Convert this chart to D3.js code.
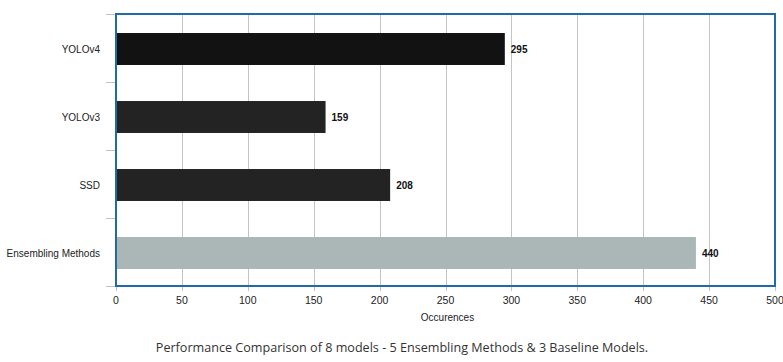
<!DOCTYPE html>
<html>
<head>
<meta charset="utf-8">
<script src="https://cdn.jsdelivr.net/npm/d3@7"></script>
<style>
  body { margin:0; background:#fff; }
  text { font-family: "Liberation Sans", Arial, sans-serif; }
</style>
</head>
<body>
<div id="chart"></div>
<script>
// values
const models = ["YOLOv4", "YOLOv3", "SSD", "Ensembling Methods"];
const counts = [295, 159, 208, 440];
const barColors = ["#121212", "#232323", "#232323", "#abb6b7"];
const xTicks = [0, 50, 100, 150, 200, 250, 300, 350, 400, 450, 500];
const xTitle = "Occurences";
const caption = "Performance Comparison of 8 models - 5 Ensembling Methods & 3 Baseline Models.";

const W = 783, H = 362;
const margin = {top: 14, right: 8, bottom: 76, left: 116};
const iw = W - margin.left - margin.right;
const ih = H - margin.top - margin.bottom;

let svg = d3.select("#chart").append("svg")
            .attr("width", W)
            .attr("height", H);

let g = svg.append("g").attr("transform", "translate(" + margin.left + "," + margin.top + ")");

let x = d3.scaleLinear().domain([0, 500]).range([0, iw]);
let y = d3.scaleBand().domain(models).range([0, ih]).paddingInner(0.53).paddingOuter(0.265);

// vertical grid lines (run a bit below the frame, like tick marks)
g.append("g").selectAll("line").data(xTicks).enter().append("line")
   .attr("x1", d => Math.round(x(d)) + 0.5)
   .attr("x2", d => Math.round(x(d)) + 0.5)
   .attr("y1", 0)
   .attr("y2", ih + 5)
   .attr("stroke", "#c4c4c4")
   .attr("stroke-width", 1);

// y ticks left of frame, at band boundaries
let bounds = models.map((m, i) => i * ih / models.length).concat([ih]);
g.append("g").selectAll("line").data(bounds).enter().append("line")
   .attr("x1", -10).attr("x2", 0)
   .attr("y1", d => Math.round(d) + 0.5)
   .attr("y2", d => Math.round(d) + 0.5)
   .attr("stroke", "#c4c4c4");

// bars
g.append("g").selectAll("rect").data(models).enter().append("rect")
   .attr("x", 0)
   .attr("y", d => y(d) + 1)
   .attr("width", (d, i) => x(counts[i]))
   .attr("height", y.bandwidth())
   .attr("fill", (d, i) => barColors[i]);

// value labels
g.append("g").selectAll("text").data(models).enter().append("text")
   .attr("x", (d, i) => x(counts[i]) + 6)
   .attr("y", d => y(d) + y.bandwidth() / 2 + 1)
   .attr("dy", "0.35em")
   .style("font-size", "10px")
   .style("font-weight", "bold")
   .attr("fill", "#111")
   .text((d, i) => counts[i]);

// category labels
g.append("g").selectAll("text").data(models).enter().append("text")
   .attr("x", -16)
   .attr("y", d => y(d) + y.bandwidth() / 2 + 1)
   .attr("dy", "0.35em")
   .attr("text-anchor", "end")
   .style("font-size", "10px")
   .attr("fill", "#222")
   .text(d => d);

// x tick labels
g.append("g").selectAll("text").data(xTicks).enter().append("text")
   .attr("x", d => x(d))
   .attr("y", ih + 18)
   .attr("text-anchor", "middle")
   .style("font-size", "10.5px")
   .attr("fill", "#222")
   .text(d => d);

g.append("text")
   .attr("x", x(250) + 2)
   .attr("y", ih + 35)
   .attr("text-anchor", "middle")
   .style("font-size", "10px")
   .attr("fill", "#222")
   .text(xTitle);

// frame
g.append("rect")
   .attr("x", 0).attr("y", 0)
   .attr("width", iw).attr("height", ih)
   .attr("fill", "none")
   .attr("stroke", "#1f6aa8")
   .attr("stroke-width", 2);

svg.append("text")
   .attr("x", 402)
   .attr("y", 352)
   .attr("text-anchor", "middle")
   .style("font-family", "'Open Sans', sans-serif")
   .style("font-size", "12.6px")
   .attr("fill", "#333")
   .text(caption);
</script>
</body>
</html>
